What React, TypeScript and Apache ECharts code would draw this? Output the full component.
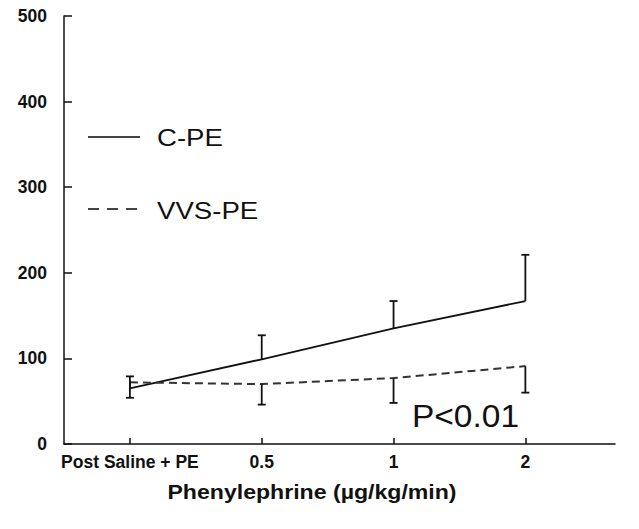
import React, { useEffect, useRef } from "react";
import * as echarts from "echarts";

const categories = ["Post Saline + PE", "0.5", "1", "2"];
const cpeValues = [65, 99, 135, 167];
const cpeUpperErr = [14, 28, 32, 54];
const vvsValues = [72, 70, 77, 91];
const vvsLowerErr = [18, 24, 29, 31];
const yTicks = [0, 100, 200, 300, 400, 500];

const FONT = "Liberation Sans, Arial, sans-serif";

export default function App() {
  const ref = useRef<HTMLDivElement>(null);
  useEffect(() => {
    if (!ref.current) return;
    const chart = echarts.init(ref.current, null, { renderer: "svg" });
    const xIdx = categories.map((_, i) => i);
    const errData = [
      ...cpeValues.map((v, i) => [i, v, v + cpeUpperErr[i]]),
      ...vvsValues.map((v, i) => [i, v, v - vvsLowerErr[i]]),
    ];
    chart.setOption({
      animation: false,
      grid: { left: 64, right: 24, top: 16, bottom: 85 },
      xAxis: {
        type: "value",
        min: -0.5,
        max: 3.68,
        axisLine: { onZero: false, lineStyle: { color: "#111", width: 1.5 } },
        axisTick: { show: true, inside: true, length: 6, customValues: xIdx, lineStyle: { color: "#111", width: 1.5 } },
        axisLabel: {
          customValues: xIdx,
          formatter: (v: number) => categories[Math.round(v)] ?? "",
          fontFamily: FONT,
          fontWeight: "bold",
          fontSize: 17.5,
          color: "#111",
          margin: 9,
        },
        splitLine: { show: false },
      },
      yAxis: {
        type: "value",
        min: 0,
        max: 500,
        interval: 100,
        axisLine: { show: true, onZero: false, lineStyle: { color: "#111", width: 1.5 } },
        axisTick: { show: true, inside: true, length: 8, customValues: yTicks, lineStyle: { color: "#111", width: 1.5 } },
        axisLabel: {
          fontFamily: FONT,
          fontWeight: "bold",
          fontSize: 17.5,
          color: "#111",
          margin: 17,
        },
        splitLine: { show: false },
      },
      series: [
        {
          type: "line",
          name: "C-PE",
          data: cpeValues.map((v, i) => [i, v]),
          symbol: "none",
          lineStyle: { color: "#111", width: 1.8, type: "solid" },
          z: 3,
        },
        {
          type: "line",
          name: "VVS-PE",
          data: vvsValues.map((v, i) => [i, v]),
          symbol: "none",
          lineStyle: { color: "#333", width: 2, type: [8, 5] },
          z: 3,
        },
        {
          type: "custom",
          data: errData,
          z: 4,
          renderItem: (params: any, api: any) => {
            const x = api.value(0);
            const p0 = api.coord([x, api.value(1)]);
            const p1 = api.coord([x, api.value(2)]);
            const w = 4;
            const style = { stroke: "#111", lineWidth: 1.8 };
            return {
              type: "group",
              children: [
                { type: "line", shape: { x1: p0[0], y1: p0[1], x2: p1[0], y2: p1[1] }, style },
                { type: "line", shape: { x1: p1[0] - w, y1: p1[1], x2: p1[0] + w, y2: p1[1] }, style },
              ],
            };
          },
        },
      ],
      graphic: [
        { type: "line", shape: { x1: 88, y1: 137, x2: 140, y2: 137 }, style: { stroke: "#444", lineWidth: 2 } },
        { type: "text", x: 157, y: 138, scaleX: 1.15, style: { text: "C-PE", fontFamily: FONT, fontSize: 24, fill: "#111", verticalAlign: "middle" } },
        { type: "line", shape: { x1: 88, y1: 209, x2: 138, y2: 209 }, style: { stroke: "#444", lineWidth: 2, lineDash: [11, 8] } },
        { type: "text", x: 157, y: 211, scaleX: 1.15, style: { text: "VVS-PE", fontFamily: FONT, fontSize: 24, fill: "#111", verticalAlign: "middle" } },
        { type: "text", x: 412, y: 416, scaleX: 1.08, style: { text: "P<0.01", fontFamily: FONT, fontSize: 31, fill: "#111", verticalAlign: "middle" } },
        { type: "text", x: 312, y: 492, scaleX: 1.1, style: { text: "Phenylephrine (µg/kg/min)", fontFamily: FONT, fontSize: 21, fontWeight: "bold", fill: "#111", align: "center", verticalAlign: "middle" } },
      ],
    });
    return () => chart.dispose();
  }, []);
  return <div ref={ref} style={{ width: 639, height: 529, position: "absolute", left: 0, top: 0 }} />;
}
